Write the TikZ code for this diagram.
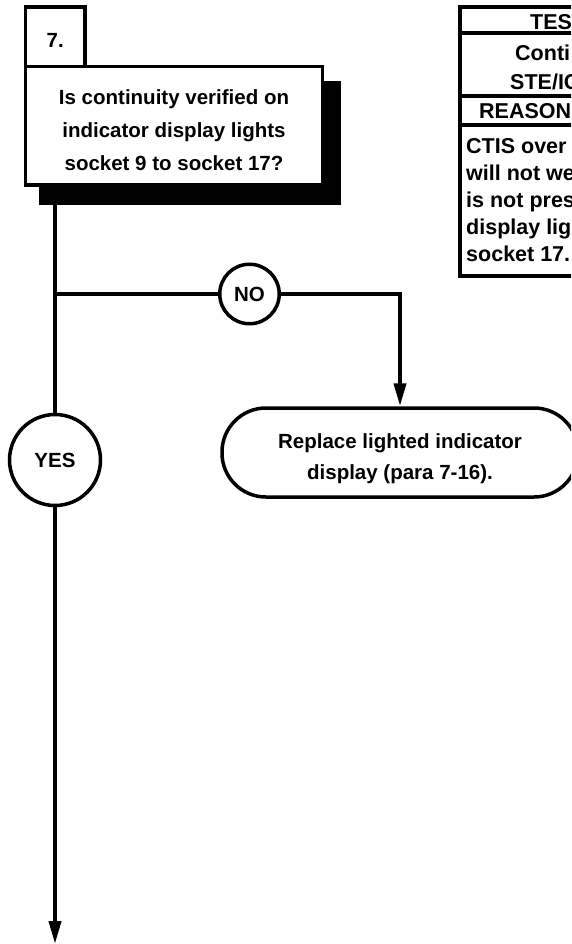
\documentclass[tikz,border=0pt]{standalone}
\usepackage{fontspec}
\setmainfont{Liberation Sans}
\usetikzlibrary{arrows.meta}
\newcommand\qfont{\fontsize{20.5}{33}\selectfont\bfseries}
\newcommand\tabfont{\fontsize{21.5}{27}\selectfont\bfseries}
\newcommand\fixfont{\fontsize{20.5}{31}\selectfont\bfseries}
\begin{document}
\begin{tikzpicture}[x=1pt,y=-1pt,
  box/.style={draw, line width=3.5pt, fill=white, inner sep=0pt},
  circ/.style={circle, draw, line width=3.5pt, fill=white, inner sep=0pt, font=\qfont},
  conn/.style={line width=4pt},
  arr/.style={conn, -{Triangle[length=23pt,width=12pt]}},
  tabline/.style={line width=4pt},
  tabtxt/.style={anchor=base west, inner sep=0pt, font=\tabfont}]
\useasboundingbox (0,0) rectangle (571,944);
\clip (0,0) rectangle (571,944);

% step number and question box with shadow
\node[box, minimum width=59.5pt, minimum height=59.5pt, font=\qfont, text height=21pt] (stepnum) at (55.25,36.75) {7.};
\fill (39,81) rectangle (341,205);
\node[box, minimum width=297pt, minimum height=118.5pt, font=\qfont, align=center, text height=89pt] (q) at (174,125.75)
  {Is continuity verified on\\indicator display lights\\socket 9 to socket 17?};

% test table (clipped at right edge)
\draw[tabline] (460,7) rectangle (620,276);
\draw[tabline] (460,33) -- (620,33);
\draw[tabline] (460,96) -- (620,96);
\draw[tabline] (460,125) -- (620,125);
\node[tabtxt] (thead) at (530,29.5) {TES};
\node[tabtxt] (tcont) at (515,61) {Conti};
\node[tabtxt] (tste) at (510,90) {STE/IC};
\node[tabtxt] (treason) at (479,119) {REASON};
\node[anchor=north west, inner sep=0pt, font=\tabfont, align=left] (tbody) at (466,138.5)
  {CTIS over\\will not we\\is not pres\\display lig\\socket 17.};

% decision circles and result box
\coordinate (junc) at (55,294);
\node[circ, minimum size=59.5pt] (no) at (249.5,294) {NO};
\node[circ, minimum size=91pt] (yes) at (55,460) {YES};
\node[box, rounded corners=44pt, minimum width=356pt, minimum height=89pt, font=\fixfont, align=center, text height=58pt] (fix) at (400,452.5)
  {Replace lighted indicator\\display (para 7-16).};
\coordinate (bottom) at (55,944);

% connectors
\draw[conn] (q.south -| yes.north) -- (yes.north);
\draw[conn] (junc) -- (no.west);
\draw[arr] (no.east) -| (fix.north);
\draw[arr] (yes.south) -- (bottom);
\end{tikzpicture}
\end{document}
